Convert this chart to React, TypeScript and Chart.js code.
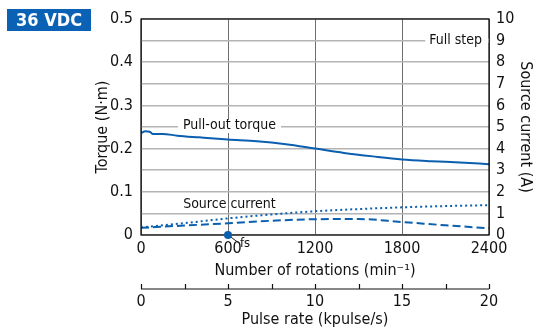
import React, { useEffect, useRef } from "react";
import { Chart, registerables } from "chart.js";

Chart.register(...registerables);

const FONT = "'Liberation Sans Narrow', 'DejaVu Sans Condensed', 'Arial Narrow', sans-serif";
const BLUE = "#0a5fae";

const torqueRpm = [0, 30, 60, 80, 150, 250, 400, 600, 800, 1000, 1200, 1400, 1600, 1800, 2000, 2200, 2400];
const torqueVal = [0.236, 0.240, 0.239, 0.234, 0.234, 0.230, 0.226, 0.221, 0.217, 0.210, 0.200, 0.190, 0.182, 0.175, 0.171, 0.168, 0.164];

const currentRpm = [0, 300, 600, 900, 1200, 1500, 1800, 2100, 2400];
const fullStepCurrent = [0.35, 0.55, 0.77, 0.95, 1.1, 1.2, 1.28, 1.34, 1.38];
const holdCurrent = [0.33, 0.44, 0.54, 0.66, 0.73, 0.74, 0.6, 0.45, 0.31];

const rpmTicks = [0, 600, 1200, 1800, 2400];
const pulseMajor = [0, 5, 10, 15, 20];
const torqueTicks = [0, 0.1, 0.2, 0.3, 0.4, 0.5];
const currentTicks = [0, 1, 2, 3, 4, 5, 6, 7, 8, 9, 10];
const fsRpm = 600;

const annotations = {
  id: "annotations",
  afterDatasetsDraw(chart: any) {
    const { ctx, chartArea, scales } = chart;
    const x = scales.x, y = scales.y, y1 = scales.y1, x2 = scales.x2;
    ctx.save();
    // frame
    ctx.strokeStyle = "#000";
    ctx.lineWidth = 1.2;
    ctx.strokeRect(chartArea.left, chartArea.top, chartArea.right - chartArea.left, chartArea.bottom - chartArea.top);

    ctx.font = `14px ${FONT}`;
    ctx.textBaseline = "middle";
    ctx.textAlign = "center";
    // Pull-out torque label
    const py = y.getPixelForValue(0.25);
    const px = x.getPixelForValue(610);
    const w1 = ctx.measureText("Pull-out torque").width;
    ctx.fillStyle = "#fff";
    ctx.fillRect(px - w1 / 2 - 5, py - 7, w1 + 10, 13);
    ctx.fillStyle = "#111";
    ctx.fillText("Pull-out torque", px, py - 2);

    // Source current label
    ctx.fillText("Source current", x.getPixelForValue(610), y1.getPixelForValue(1.42));

    // Full step label
    const fy = y1.getPixelForValue(9);
    const fx = x.getPixelForValue(2170);
    const w2 = ctx.measureText("Full step").width;
    ctx.fillStyle = "#fff";
    ctx.fillRect(fx - w2 / 2 - 4, fy - 7, w2 + 8, 14);
    ctx.fillRect(chartArea.right - 3, fy - 2, 2.4, 4);
    ctx.fillStyle = "#111";
    ctx.fillText("Full step", fx, fy);

    // fs marker
    const mx = x.getPixelForValue(fsRpm);
    const my = y.getPixelForValue(0);
    ctx.strokeStyle = "#222";
    ctx.lineWidth = 1;
    ctx.beginPath();
    ctx.moveTo(mx, my);
    ctx.lineTo(mx + 11, my + 8);
    ctx.stroke();
    ctx.fillStyle = BLUE;
    ctx.beginPath();
    ctx.arc(mx, my, 4, 0, Math.PI * 2);
    ctx.fill();
    ctx.fillStyle = "#111";
    ctx.font = `13px ${FONT}`;
    ctx.textAlign = "left";
    ctx.fillText("fs", mx + 12, my + 9);

    // secondary pulse-rate axis line and ticks
    const ly = x2.top + 7;
    ctx.strokeStyle = "#111";
    ctx.lineWidth = 1.2;
    ctx.beginPath();
    ctx.moveTo(x2.left, ly);
    ctx.lineTo(x2.right, ly);
    for (let v = 0; v <= 20; v += 2.5) {
      const tx = Math.round(x2.getPixelForValue(v)) + 0.5;
      ctx.moveTo(tx, ly);
      ctx.lineTo(tx, ly - 5);
    }
    ctx.stroke();

    // badge
    ctx.fillStyle = "#0b62b5";
    ctx.fillRect(7, 9, 84, 22);
    ctx.fillStyle = "#fff";
    ctx.font = `bold 18px ${FONT}`;
    ctx.textAlign = "center";
    ctx.fillText("36 VDC", 49, 21);
    ctx.restore();
  },
};

const tickFont = { family: FONT, size: 16 };
const titleFont = { family: FONT, size: 16 };

export default function App() {
  const ref = useRef<HTMLCanvasElement>(null);
  useEffect(() => {
    const canvas = ref.current!;
    const chart = new Chart(canvas, {
      type: "line",
      data: {
        datasets: [
          {
            label: "Pull-out torque",
            data: torqueRpm.map((r, i) => ({ x: r, y: torqueVal[i] })),
            borderColor: BLUE,
            borderWidth: 2,
            pointRadius: 0,
            cubicInterpolationMode: "monotone",
            yAxisID: "y",
            xAxisID: "x",
          },
          {
            label: "Source current (full step)",
            data: currentRpm.map((r, i) => ({ x: r, y: fullStepCurrent[i] })),
            borderColor: BLUE,
            borderWidth: 2,
            borderDash: [2, 3],
            pointRadius: 0,
            cubicInterpolationMode: "monotone",
            yAxisID: "y1",
            xAxisID: "x",
          },
          {
            label: "Source current",
            data: currentRpm.map((r, i) => ({ x: r, y: holdCurrent[i] })),
            borderColor: BLUE,
            borderWidth: 2,
            borderDash: [8, 4],
            pointRadius: 0,
            cubicInterpolationMode: "monotone",
            yAxisID: "y1",
            xAxisID: "x",
          },
        ],
      },
      options: {
        animation: false,
        responsive: false,
        devicePixelRatio: 1,
        layout: { padding: { left: 89, right: 8, top: 19, bottom: 0 } },
        plugins: { legend: { display: false }, tooltip: { enabled: false } },
        scales: {
          x: {
            type: "linear",
            position: "bottom",
            min: 0,
            max: 2400,
            afterBuildTicks: (s: any) => { s.ticks = rpmTicks.map((v) => ({ value: v })); },
            afterFit: (s: any) => { s.height = 47; },
            grid: { color: "#6e6e6e", lineWidth: 1, drawTicks: false },
            border: { display: false },
            ticks: { color: "#111", font: tickFont, padding: 4, maxRotation: 0, autoSkip: false, callback: (v: any) => String(v) },
            title: { display: true, text: "Number of rotations (min⁻¹)", color: "#111", font: titleFont, padding: { top: 0, bottom: 2 } },
          },
          x2: {
            type: "linear",
            position: "bottom",
            min: 0,
            max: 20,
            afterBuildTicks: (s: any) => { s.ticks = pulseMajor.map((v) => ({ value: v })); },
            afterFit: (s: any) => { s.height = 47; },
            grid: { display: false, drawOnChartArea: false, drawTicks: false },
            border: { display: false },
            ticks: { color: "#111", font: tickFont, padding: 10, maxRotation: 0, autoSkip: false, callback: (v: any) => String(v) },
            title: { display: true, text: "Pulse rate (kpulse/s)", color: "#111", font: titleFont, padding: { top: 0, bottom: 0 } },
          },
          y: {
            position: "left",
            min: 0,
            max: 0.5,
            afterBuildTicks: (s: any) => { s.ticks = torqueTicks.map((v) => ({ value: v })); },
            afterFit: (s: any) => { s.width = 52; },
            grid: { display: false, drawTicks: false },
            border: { display: false },
            ticks: { color: "#111", font: tickFont, padding: 8, autoSkip: false, callback: (v: any) => (v === 0 ? "0" : Number(v).toFixed(1)) },
            title: { display: true, text: "Torque (N·m)", color: "#111", font: titleFont, padding: { top: 4, bottom: 0 } },
          },
          y1: {
            position: "right",
            min: 0,
            max: 10,
            afterBuildTicks: (s: any) => { s.ticks = currentTicks.map((v) => ({ value: v })); },
            afterFit: (s: any) => { s.width = 50; },
            grid: { color: "#b4b4b4", lineWidth: 1.5, drawTicks: false },
            border: { display: false },
            ticks: { color: "#111", font: tickFont, padding: 7, autoSkip: false, callback: (v: any) => String(v) },
            title: { display: true, text: "Source current (A)", color: "#111", font: titleFont, padding: { top: 4, bottom: 0 } },
          },
        },
      },
      plugins: [annotations],
    } as any);
    return () => chart.destroy();
  }, []);
  return (
    <div style={{ position: "fixed", left: 0, top: 0, width: 547, height: 329, background: "#fff" }}>
      <canvas ref={ref} width={547} height={329} style={{ width: 547, height: 329, display: "block" }} />
    </div>
  );
}
